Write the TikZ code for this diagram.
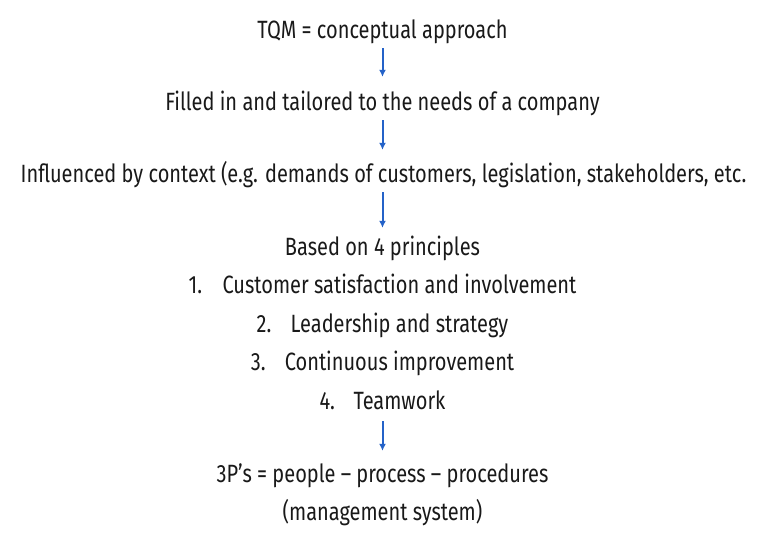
\documentclass[tikz,border=0pt]{standalone}
\usepackage{fontspec}
\setmainfont{Fira Sans}[FakeStretch=0.8]
\usetikzlibrary{arrows.meta}
\definecolor{arrblue}{HTML}{2462C8}
\begin{document}
\begin{tikzpicture}[x=1pt,y=-1pt,
  txt/.style={anchor=base,inner sep=0pt,text height=18pt,text depth=6pt,font=\fontsize{25}{29}\selectfont,text=black!90},
  arr/.style={draw=arrblue,line width=2pt,-{Latex[length=7pt,width=7pt]}}]
\useasboundingbox[fill=white] (0,0) rectangle (773,539);
\newcommand{\itm}[2]{\makebox[34pt][l]{#1}#2}
\node[txt] (t1) at (382.5,38) {TQM = conceptual approach};
\node[txt] (t2) at (382.5,110) {Filled in and tailored to the needs of a company};
\node[txt] (t3) at (383.5,182) {Influenced by context (e.g. demands of customers, legislation, stakeholders, etc.};
\node[txt] (t4) at (382.5,255) {Based on 4 principles};
\node[txt] (p1) at (382.5,293) {\itm{1.}{Customer satisfaction and involvement}};
\node[txt] (p2) at (382.5,332) {\itm{2.}{Leadership and strategy}};
\node[txt] (p3) at (382.5,370) {\itm{3.}{Continuous improvement}};
\node[txt] (p4) at (382.5,409) {\itm{4.}{Teamwork}};
\node[txt] (t5) at (382.5,482) {3P’s = people – process – procedures};
\node[txt] (t6) at (382.5,520) {(management system)};
\draw[arr,shorten <=4pt,shorten >=15pt] (t1) -- (t2);
\draw[arr,shorten <=4pt,shorten >=14pt] (t2) -- (t2 |- t3.north);
\draw[arr,shorten <=4pt,shorten >=9pt] (t3.south -| t4) -- (t4);
\draw[arr,shorten <=6pt,shorten >=13pt] (p4) -- (t5);
\end{tikzpicture}
\end{document}
